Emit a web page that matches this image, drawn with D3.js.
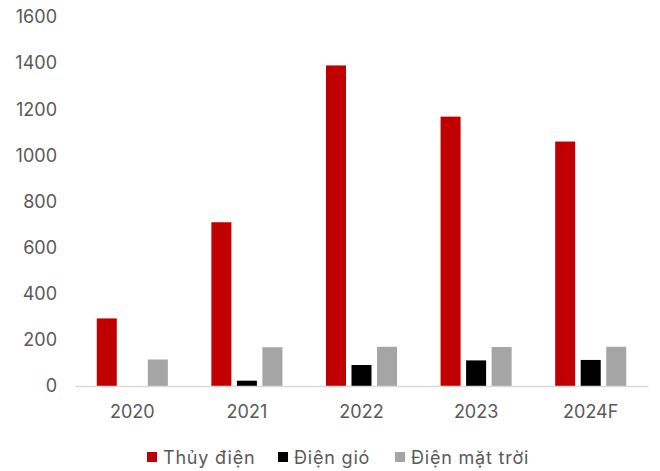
<!DOCTYPE html>
<html>
<head>
<meta charset="utf-8">
<script src="https://cdn.jsdelivr.net/npm/d3@7"></script>
<style>
  html, body { margin: 0; padding: 0; background: #fff; }
  svg { display: block; font-family: Inter, "Open Sans", sans-serif; }
</style>
</head>
<body>
<svg id="chart" width="660" height="471"></svg>
<script>
// Installed capacity by source, per year
const years = ["2020", "2021", "2022", "2023", "2024F"];
const seriesNames = ["Thủy điện", "Điện gió", "Điện mặt trời"];
const hydro = [293, 710, 1390, 1168, 1060];
const wind = [0, 23, 91, 111, 113];
const solar = [115, 168, 170, 169, 170];
const yTicks = [0, 200, 400, 600, 800, 1000, 1200, 1400, 1600];
const colors = ["#c00000", "#000000", "#a5a5a5"];

(function () {
  const seriesValues = [hydro, wind, solar];
  const rows = years.map((yr, i) => ({
    year: yr,
    values: seriesNames.map((s, k) => ({ key: s, k, v: seriesValues[k][i] }))
  }));

  const svg = d3.select("#chart");
  const plotLeft = 75, plotRight = 648, plotTop = 17, plotBottom = 386;
  const textColor = "#595959";
  const fontFamily = "Inter, 'Open Sans', sans-serif";

  const x0 = d3.scaleBand().domain(years).range([plotLeft, plotRight]).padding(0);
  const bw = x0.bandwidth();
  const groupW = bw * 0.62;
  const x1 = d3.scaleBand().domain(d3.range(3))
    .range([(bw - groupW) / 2, (bw + groupW) / 2])
    .paddingInner(0.216).paddingOuter(0);

  const y = d3.scaleLinear().domain([0, 1600]).range([plotBottom, plotTop]);

  // Bars
  svg.append("g").selectAll("g.year").data(rows).join("g")
    .attr("class", "year")
    .attr("transform", d => `translate(${x0(d.year)},0)`)
    .selectAll("rect").data(d => d.values.filter(v => v.v > 0)).join("rect")
    .attr("x", d => x1(d.k))
    .attr("width", x1.bandwidth())
    .attr("y", d => y(d.v))
    .attr("height", d => y(0) - y(d.v))
    .attr("fill", d => colors[d.k]);

  // Y axis (labels only)
  const yAxis = d3.axisLeft(y).tickValues(yTicks).tickFormat(d3.format("d"))
    .tickSize(0).tickPadding(0);
  const ya = svg.append("g").attr("transform", "translate(57,0)").call(yAxis);
  ya.select(".domain").remove();
  ya.selectAll("text").attr("fill", textColor).style("font-size", "18px")
    .style("font-family", fontFamily);

  // X axis
  const xAxis = d3.axisBottom(x0).tickSize(0).tickPadding(0);
  const xa = svg.append("g").attr("transform", `translate(0,${plotBottom})`).call(xAxis);
  xa.select(".domain").attr("stroke", "#d9d9d9").attr("stroke-width", 1.5);
  xa.selectAll("text").attr("fill", textColor).style("font-size", "18px")
    .attr("y", 32).attr("dy", "0")
    .style("font-family", fontFamily);

  // Legend
  const legendX = [147, 278, 395];
  const lg = svg.append("g").attr("transform", "translate(0,464)");
  seriesNames.forEach((s, k) => {
    lg.append("rect").attr("x", legendX[k]).attr("y", -12).attr("width", 10).attr("height", 10)
      .attr("fill", colors[k]);
    lg.append("text").attr("x", legendX[k] + 16).attr("y", 0)
      .attr("fill", textColor).style("font-size", "18px")
      .style("letter-spacing", "0.8px").text(s);
  });
})();
</script>
</body>
</html>
